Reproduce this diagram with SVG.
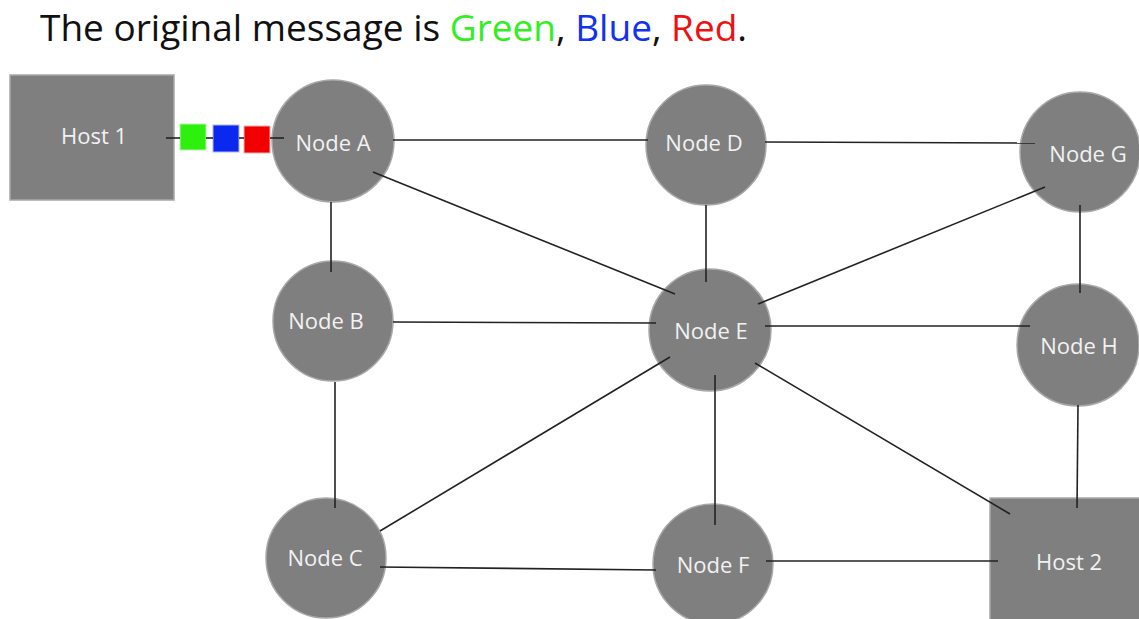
<svg xmlns="http://www.w3.org/2000/svg" width="1139" height="619" viewBox="0 0 1139 619">
<style>
.n{fill:#7f7f7f;stroke:#a8a8a8;stroke-width:1.5}
.t{font-family:"Open Sans","Liberation Sans",sans-serif;font-size:22px;fill:#f2f2f2;text-anchor:middle}
.c line{stroke:#222;stroke-width:1.6}
</style>
<rect width="1139" height="619" fill="#fff"/>
<text x="40" y="41" font-family="'Open Sans','Liberation Sans',sans-serif" font-size="37" fill="#111">The original message is <tspan fill="#33ee22">Green</tspan>, <tspan fill="#1133ee">Blue</tspan>, <tspan fill="#ee1111">Red</tspan>.</text>
<g id="host1"><rect class="n" x="10" y="75" width="164" height="125"/><text class="t" x="94" y="144">Host 1</text></g>
<g id="nodeA"><circle class="n" cx="333" cy="141" r="61"/><text class="t" x="333" y="151">Node A</text></g>
<g id="nodeD"><circle class="n" cx="706" cy="145" r="60"/><text class="t" x="704" y="151">Node D</text></g>
<g id="nodeG"><circle class="n" cx="1080" cy="152" r="60"/><text class="t" x="1088" y="162">Node G</text></g>
<g id="nodeB"><circle class="n" cx="333" cy="321" r="60"/><text class="t" x="326" y="329">Node B</text></g>
<g id="nodeE"><circle class="n" cx="710" cy="330" r="61"/><text class="t" x="711" y="339">Node E</text></g>
<g id="nodeH"><circle class="n" cx="1078" cy="345" r="61"/><text class="t" x="1079" y="354">Node H</text></g>
<g id="nodeC"><circle class="n" cx="326" cy="558" r="60"/><text class="t" x="325" y="566">Node C</text></g>
<g id="nodeF"><circle class="n" cx="713" cy="564" r="60"/><text class="t" x="713" y="573">Node F</text></g>
<g id="host2"><rect class="n" x="990" y="498" width="152" height="125"/><text class="t" x="1069" y="570">Host 2</text></g>
<g id="packets">
<rect x="180" y="124" width="26" height="26" fill="#2ef00e" stroke="#b8f0b0" stroke-width="1"/>
<rect x="213" y="125" width="26" height="27" fill="#0a28ee" stroke="#b0b8f0" stroke-width="1"/>
<rect x="244" y="126" width="26" height="27" fill="#f20000" stroke="#f0b0b0" stroke-width="1"/>
</g>
<g class="c" id="connectors">
<line x1="166" y1="138" x2="180" y2="138"/>
<line x1="206" y1="138" x2="213" y2="138"/>
<line x1="239" y1="138" x2="244" y2="138"/>
<line x1="270" y1="138" x2="284" y2="138"/>
<line x1="393" y1="140" x2="648" y2="140"/>
<line x1="765" y1="142" x2="1035" y2="143"/>
<line x1="331" y1="202" x2="331" y2="272"/>
<line x1="373" y1="172" x2="675" y2="294"/>
<line x1="706" y1="205" x2="706" y2="282"/>
<line x1="758" y1="304" x2="1045" y2="187"/>
<line x1="393" y1="322" x2="656" y2="323"/>
<line x1="765" y1="326" x2="1030" y2="326"/>
<line x1="1080" y1="205" x2="1080" y2="293"/>
<line x1="335" y1="382" x2="335" y2="508"/>
<line x1="380" y1="531" x2="670" y2="357"/>
<line x1="715" y1="375" x2="715" y2="525"/>
<line x1="755" y1="363" x2="1010" y2="514"/>
<line x1="1078" y1="405" x2="1077" y2="508"/>
<line x1="380" y1="567" x2="656" y2="570"/>
<line x1="766" y1="561" x2="998" y2="561"/>
</g>
</svg>
